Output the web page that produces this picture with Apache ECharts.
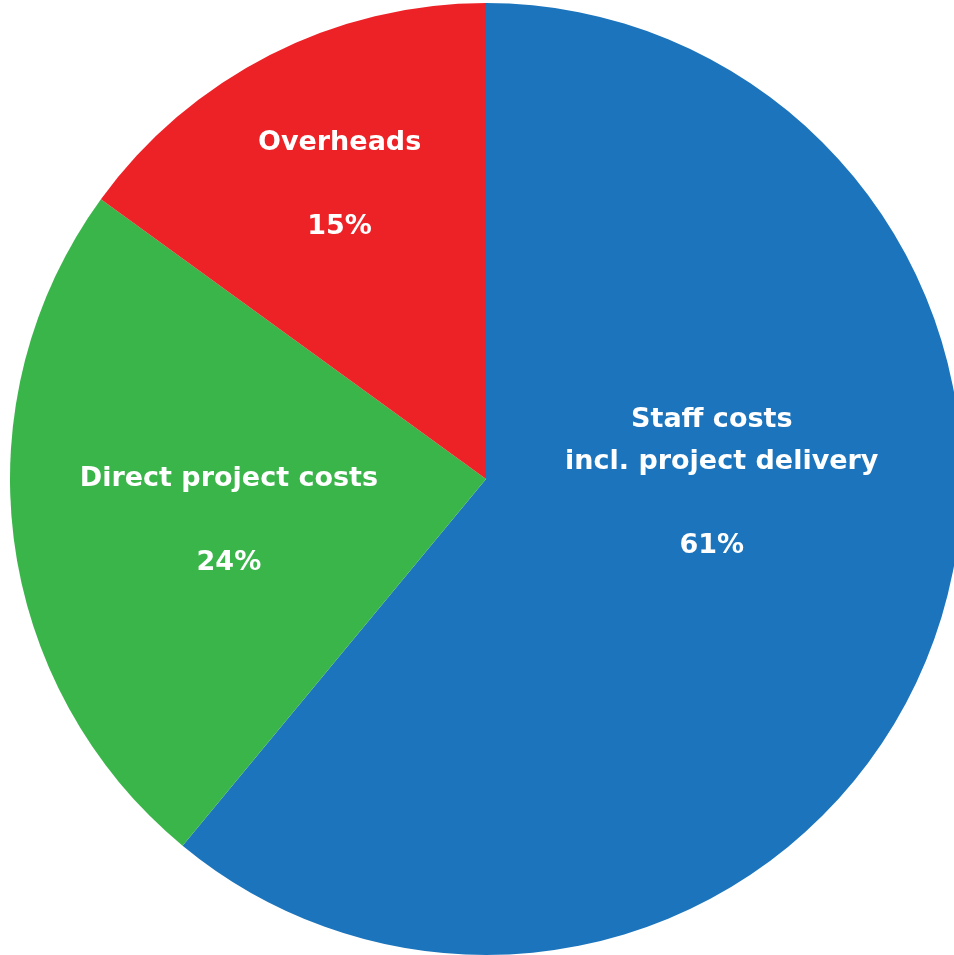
<!DOCTYPE html>
<html>
<head>
<meta charset="utf-8">
<script src="https://cdn.jsdelivr.net/npm/echarts@6/dist/echarts.min.js"></script>
<style>html,body{margin:0;padding:0;background:#fff}#c{width:954px;height:955px}</style>
</head>
<body>
<div id="c"></div>
<script>
const categories = ['Staff costs\nincl. project delivery', 'Direct project costs', 'Overheads'];
const values = [61, 24, 15];
const colors = ['#1C75BC', '#39B54A', '#EC2227'];
const labelOffsets = [[-1, -78], [-18, 12], [-37, -79]];

const FONT = 'DejaVu Sans';
const FS = 27;
const chart = echarts.init(document.getElementById('c'));
chart.setOption({
  animation: false,
  series: [{
    type: 'pie',
    center: [486, 479],
    radius: 476,
    startAngle: 90,
    clockwise: true,
    label: {
      show: true,
      position: 'inside',
      color: '#fff',
      fontFamily: FONT,
      fontWeight: 'bold',
      fontSize: FS,
      lineHeight: 42,
      formatter: function (p) {
        const lines = p.name.split('\n');
        let out = lines.map(function (l, i) { return i === 1 ? '{s|' + l + '}' : '{n|' + l + '}'; }).join('\n');
        return out + '\n\n{n|' + p.value + '%}';
      },
      rich: {
        n: { color: '#fff', fontFamily: FONT, fontWeight: 'bold', fontSize: FS, lineHeight: 42 },
        s: { color: '#fff', fontFamily: FONT, fontWeight: 'bold', fontSize: FS, lineHeight: 42, padding: [0, 0, 0, 20] }
      }
    },
    labelLine: { show: false },
    itemStyle: { borderWidth: 0 },
    emphasis: { disabled: true },
    data: categories.map(function (c, i) {
      return { name: c, value: values[i], itemStyle: { color: colors[i] }, label: { offset: labelOffsets[i] } };
    })
  }]
});
</script>
</body>
</html>
